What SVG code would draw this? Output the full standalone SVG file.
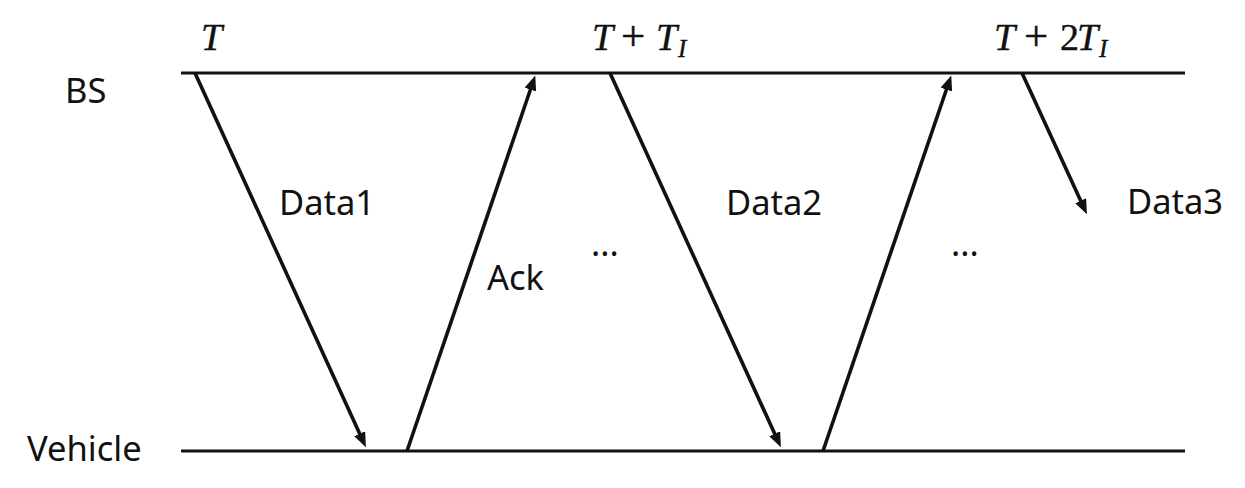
<svg xmlns="http://www.w3.org/2000/svg" width="1245" height="488" viewBox="0 0 1245 488">
<style>
.lbl{font-family:"Noto Sans","Open Sans",sans-serif;font-size:34.5px;fill:#111}
.math{font-family:"Liberation Serif","DejaVu Serif",serif;font-size:38px;fill:#111;stroke:#111;stroke-width:0.4}
.it{font-style:italic}
.sub{font-style:italic;font-size:25px}
.axis{stroke:#111;stroke-width:3.2;fill:none}
.msg{stroke:#111;stroke-width:3.6;fill:none;marker-end:url(#ah)}
</style>
<defs>
<marker id="ah" markerUnits="userSpaceOnUse" markerWidth="18" markerHeight="14" refX="8" refY="6" orient="auto" viewBox="0 0 18 14">
<path d="M0,0 L15,6 L0,12 z" fill="#111"/>
</marker>
</defs>
<rect width="1245" height="488" fill="#fff"/>
<g id="bs">
<line class="axis" x1="181" y1="73" x2="1185" y2="73"/>
<text class="lbl" x="65" y="103">BS</text>
</g>
<g id="vehicle">
<line class="axis" x1="181" y1="451" x2="1185" y2="451"/>
<text class="lbl" x="27" y="461">Vehicle</text>
</g>
<g id="time-labels">
<text class="math" y="50"><tspan class="it" x="201">T</tspan></text>
<text class="math" y="50"><tspan class="it" x="592">T</tspan><tspan x="621" font-size="43">+</tspan><tspan class="it" x="656">T</tspan><tspan class="sub" x="678" dy="7">I</tspan></text>
<text class="math" y="50"><tspan class="it" x="994">T</tspan><tspan x="1024" font-size="43">+</tspan><tspan x="1060">2</tspan><tspan class="it" x="1077">T</tspan><tspan class="sub" x="1099" dy="7">I</tspan></text>
</g>
<g id="connectors">
<line class="msg" x1="195" y1="73" x2="363" y2="441"/>
<line class="msg" x1="407" y1="451" x2="533" y2="82"/>
<line class="msg" x1="610" y1="73" x2="778" y2="441"/>
<line class="msg" x1="823" y1="451" x2="949" y2="82"/>
<line class="msg" x1="1022" y1="73" x2="1084" y2="208"/>
</g>
<g id="msg-labels">
<text class="lbl" x="279" y="215">Data1</text>
<text class="lbl" x="487" y="290">Ack</text>
<text class="lbl" x="591" y="256">...</text>
<text class="lbl" x="726" y="215">Data2</text>
<text class="lbl" x="951" y="256">...</text>
<text class="lbl" x="1127" y="214">Data3</text>
</g>
</svg>
